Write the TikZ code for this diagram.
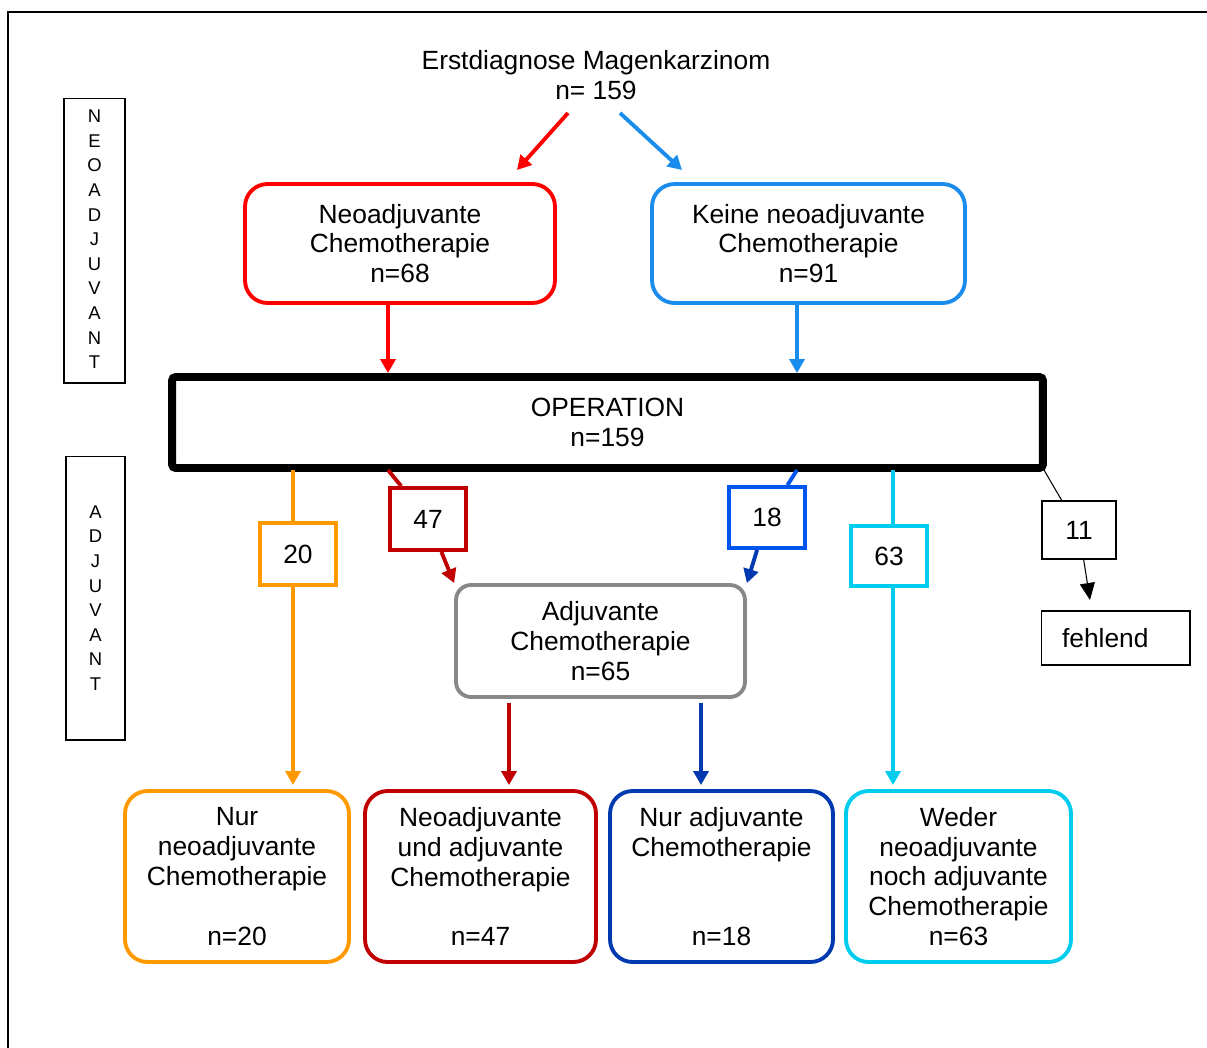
\documentclass[tikz,border=0pt]{standalone}
\usepackage{fontspec}
\setmainfont{Liberation Sans}
\usetikzlibrary{arrows.meta}
\definecolor{neored}{HTML}{FF0000}
\definecolor{keineblue}{HTML}{1A8CEB}
\definecolor{darkred}{HTML}{C00000}
\definecolor{brightblue}{HTML}{0055EE}
\definecolor{darkblue}{HTML}{0039B0}
\definecolor{cyanish}{HTML}{00CCEE}
\definecolor{orangeish}{HTML}{FF9900}
\definecolor{grayish}{HTML}{888888}
\tikzset{
    flow-box/.style = {draw, fill=white, line width=2.2pt, rectangle, rounded corners=0.45cm, align=center, inner sep=0pt, minimum height=3.42cm},
    op-box/.style = {draw=black, fill=white, line width=4.5pt, rectangle, rounded corners=2pt, align=center, minimum width=17.42cm, minimum height=1.82cm},
    count-box/.style = {draw, fill=white, line width=2.2pt, rectangle, inner sep=0pt, minimum width=1.52cm, minimum height=1.24cm},
    thin-box/.style = {draw=black, fill=white, line width=0.6pt, rectangle, inner sep=0pt},
    side-label/.style = {thin-box, align=center, font=\fontsize{10.5}{14}\selectfont},
    flow-arrow/.style = {line width=2.2pt, -{Triangle[width=0.3cm,length=0.28cm]}},
    flow-line/.style = {line width=2.2pt},
}

\begin{document}
\begin{tikzpicture}[x=0.02cm, y=-0.02cm, font=\fontsize{15}{17}\selectfont]
\useasboundingbox (0,0) rectangle (1207,1048);
\draw[line width=1.1pt] (8,1048) -- (8,12) -- (1207,12);

% side labels
\node[side-label, minimum width=1.22cm, minimum height=5.7cm] (lbl-neo) at (94.5,240.5) {\\[-8pt]N\\E\\O\\A\\D\\J\\U\\V\\A\\N\\T};
\node[side-label, minimum width=1.18cm, minimum height=5.68cm] (lbl-adj) at (95.5,598) {A\\D\\J\\U\\V\\A\\N\\T};

% top part
\node[align=center] (title) at (596,75) {Erstdiagnose Magenkarzinom\\n= 159};
\node[flow-box, draw=neored, minimum width=6.2cm, minimum height=2.38cm] (neo) at (400,243.5) {Neoadjuvante\\Chemotherapie\\n=68};
\node[flow-box, draw=keineblue, minimum width=6.26cm, minimum height=2.38cm] (keine) at (808.5,243.5) {Keine neoadjuvante\\Chemotherapie\\n=91};
\node[op-box] (op) at (607.5,422.5) {OPERATION\\n=159};

\coordinate (t-left) at (568,113);
\coordinate (t-right) at (620,113);
\coordinate (t-neo) at (517,170);
\coordinate (t-keine) at (682,170);
\draw[flow-arrow, neored] (t-left) -- (t-neo);
\draw[flow-arrow, keineblue] (t-right) -- (t-keine);

% exits from the operation
\coordinate (o20) at (293,470);
\coordinate (o47) at (388,470);
\coordinate (o18) at (797,470);
\coordinate (o63) at (893,470);
\coordinate (o11) at (1044,470);

\draw[flow-arrow, neored] (neo.south -| o47) -- (op.north -| o47);
\draw[flow-arrow, keineblue] (keine.south -| o18) -- (op.north -| o18);

% counts
\node[count-box, draw=orangeish] (n20) at (298,554) {20};
\node[count-box, draw=darkred] (n47) at (428,519) {47};
\node[count-box, draw=brightblue, minimum height=1.22cm] (n18) at (767,517.5) {18};
\node[count-box, draw=cyanish, minimum height=1.2cm] (n63) at (889,556) {63};
\node[thin-box, minimum width=1.48cm, minimum height=1.16cm] (n11) at (1079,530) {11};
\node[thin-box, minimum height=1.08cm, text width=2.14cm, inner xsep=0.42cm, align=left] (fehlend) at (1115.5,638) {fehlend};
\coordinate (f11) at (1090,600);

\node[flow-box, draw=grayish, rounded corners=0.3cm, minimum width=5.78cm, minimum height=2.24cm] (adj) at (600.5,641) {Adjuvante\\Chemotherapie\\n=65};

% bottom row
\node[flow-box, draw=orangeish, minimum width=4.48cm] (nurneo) at (237,876.5) {Nur\\neoadjuvante\\Chemotherapie\\[17pt]n=20};
\node[flow-box, draw=darkred, minimum width=4.62cm] (neoadj) at (480.5,876.5) {Neoadjuvante\\und adjuvante\\Chemotherapie\\[17pt]n=47};
\node[flow-box, draw=darkblue, minimum width=4.46cm] (nuradj) at (721.5,876.5) {Nur adjuvante\\Chemotherapie\\[34pt]n=18};
\node[flow-box, draw=cyanish, minimum width=4.5cm] (weder) at (958.5,876.5) {Weder\\neoadjuvante\\noch adjuvante\\Chemotherapie\\n=63};

\coordinate (e20) at (293,785);
\coordinate (e63) at (893,785);
\coordinate (a47) at (509,703);
\coordinate (a18) at (701,703);

\draw[flow-line, orangeish] (o20) -- (o20 |- n20.north);
\draw[flow-arrow, orangeish] (o20 |- n20.south) -- (e20);
\draw[flow-line, cyanish] (o63) -- (o63 |- n63.north);
\draw[flow-arrow, cyanish] (o63 |- n63.south) -- (e63);

\draw[flow-line, darkred] (o47) -- (n47);
\draw[flow-arrow, darkred] (n47) -- (adj.north west);
\draw[flow-line, brightblue] (o18) -- (n18);
\draw[flow-arrow, darkblue] (n18) -- (adj.north east);
\draw[line width=0.6pt] (o11) -- (n11);
\draw[line width=0.6pt, -{Triangle[width=0.3cm,length=0.34cm]}] (n11) -- (f11);

\draw[flow-arrow, darkred] (a47) -- ([yshift=0.08cm]a47 |- neoadj.north);
\draw[flow-arrow, darkblue] (a18) -- ([yshift=0.08cm]a18 |- nuradj.north);
\end{tikzpicture}
\end{document}
